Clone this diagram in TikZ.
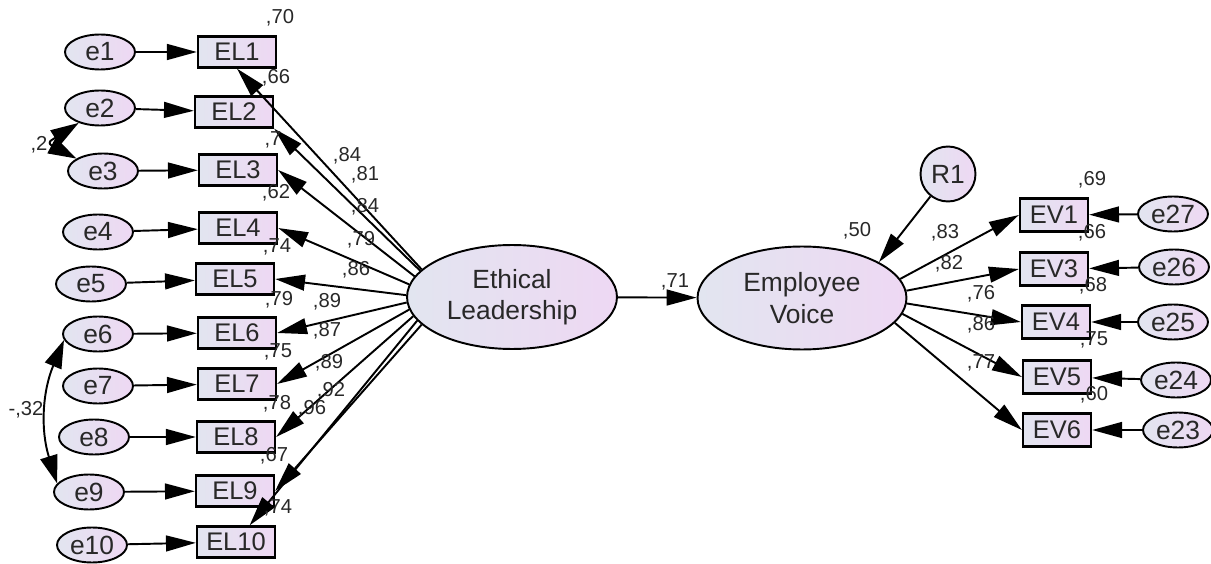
\documentclass[tikz,border=0pt]{standalone}
\usepackage{fontspec}
\setmainfont{Liberation Sans}
\usetikzlibrary{shapes.geometric,arrows.meta}
\definecolor{shadeleft}{RGB}{226,229,240}
\definecolor{shaderight}{RGB}{238,216,243}
\definecolor{inkgray}{RGB}{40,40,40}

\begin{document}
\begin{tikzpicture}[x=0.02cm,y=-0.02cm,
        obs/.style={draw,line width=1.3pt,rectangle,minimum width=1.56cm,minimum height=0.62cm,inner sep=0pt,
            left color=shadeleft,right color=shaderight,text=inkgray,font=\fontsize{14.5}{16}\selectfont},
        err/.style={draw,line width=1.1pt,ellipse,minimum width=1.4cm,minimum height=0.7cm,inner sep=0pt,
            left color=shadeleft,right color=shaderight,text=inkgray,font=\fontsize{15}{16}\selectfont},
        lat/.style={draw,line width=1.1pt,ellipse,minimum width=4.2cm,minimum height=2.08cm,inner sep=0pt,align=center,
            left color=shadeleft,right color=shaderight,text=inkgray,font=\fontsize{15}{18}\selectfont},
        est/.style={inner sep=0pt,text=inkgray,font=\fontsize{11.5}{12}\selectfont},
        loading/.style={line width=1.1pt,-{Triangle[length=17pt,width=9pt]}},
        cov/.style={line width=1.1pt,{Triangle[length=16pt,width=10pt]}-{Triangle[length=16pt,width=10pt]}}]
        \useasboundingbox (0,0) rectangle (1211,564);

        % Latent variables
        \node[lat] (EthLead) at (512,297) {Ethical\\Leadership};
        \node[lat,minimum width=4.18cm,minimum height=2.06cm] (EmpVoice) at (802,298) {Employee\\Voice};
        \node[err,circle,minimum size=1.1cm] (R1) at (948,174) {R1};

        % Ethical leadership items
        \node[obs] (EL1) at (237,52) {EL1};
        \node[obs] (EL2) at (234,112) {EL2};
        \node[obs] (EL3) at (238,170) {EL3};
        \node[obs] (EL4) at (238,228) {EL4};
        \node[obs] (EL5) at (235,279) {EL5};
        \node[obs] (EL6) at (237,333) {EL6};
        \node[obs] (EL7) at (237,384) {EL7};
        \node[obs] (EL8) at (236,437) {EL8};
        \node[obs] (EL9) at (235,491) {EL9};
        \node[obs] (EL10) at (236,542) {EL10};

        % Their error terms
        \node[err] (e1) at (100,52) {e1};
        \node[err] (e2) at (100,108) {e2};
        \node[err] (e3) at (103,171) {e3};
        \node[err] (e4) at (98,232) {e4};
        \node[err] (e5) at (91,284) {e5};
        \node[err] (e6) at (98,334) {e6};
        \node[err] (e7) at (98,386) {e7};
        \node[err] (e8) at (94,437) {e8};
        \node[err] (e9) at (89,492) {e9};
        \node[err] (e10) at (92,545) {e10};

        % Employee voice items and errors
        \node[obs,minimum width=1.36cm,minimum height=0.66cm] (EV1) at (1054,215) {EV1};
        \node[obs,minimum width=1.36cm,minimum height=0.66cm] (EV3) at (1054,269) {EV3};
        \node[obs,minimum width=1.36cm,minimum height=0.66cm] (EV4) at (1056,322) {EV4};
        \node[obs,minimum width=1.36cm,minimum height=0.66cm] (EV5) at (1057,377) {EV5};
        \node[obs,minimum width=1.36cm,minimum height=0.66cm] (EV6) at (1057,430) {EV6};
        \node[err] (e27) at (1173,214) {e27};
        \node[err] (e26) at (1174,267) {e26};
        \node[err] (e25) at (1173,322) {e25};
        \node[err] (e24) at (1176,380) {e24};
        \node[err] (e23) at (1178,430) {e23};

        % Error arrows
        \draw[loading] (e1) -- (EL1);
        \draw[loading] (e2) -- (EL2);
        \draw[loading] (e3) -- (EL3);
        \draw[loading] (e4) -- (EL4);
        \draw[loading] (e5) -- (EL5);
        \draw[loading] (e6) -- (EL6);
        \draw[loading] (e7) -- (EL7);
        \draw[loading] (e8) -- (EL8);
        \draw[loading] (e9) -- (EL9);
        \draw[loading] (e10) -- (EL10);
        \draw[loading] (e27) -- (EV1);
        \draw[loading] (e26) -- (EV3);
        \draw[loading] (e25) -- (EV4);
        \draw[loading] (e24) -- (EV5);
        \draw[loading] (e23) -- (EV6);

        % Covariances between errors
        \coordinate (bend23) at (47,143);
        \draw[cov,rounded corners=3pt] (e2.215) -- (bend23) -- (e3.155);
        \draw[cov] (e6.190) to[bend right=20] (e9.165);

        % Loadings of ethical leadership
        \draw[loading] (EthLead.163) -- (EL1.south);
        \draw[loading] (EthLead.164) -- (EL2.south east);
        \draw[loading] (EthLead.168) -- (EL3.east);
        \draw[loading] (EthLead.173) -- (EL4.east);
        \draw[loading] (EthLead.179) -- (EL5.east);
        \draw[loading] (EthLead.183) -- (EL6.east);
        \draw[loading] (EthLead.187) -- (EL7.east);
        \draw[loading] (EthLead.191) -- (EL8.east);
        \draw[loading] (EthLead.197) -- (EL9.east);
        \draw[loading] (EthLead.194) -- (EL10);

        % Structural path and loadings of employee voice
        \draw[loading] (EthLead) -- (EmpVoice);
        \draw[loading] (R1) -- (EmpVoice.25);
        \draw[loading] (EmpVoice.11) -- (EV1.west);
        \draw[loading] (EmpVoice.4) -- (EV3.west);
        \draw[loading] (EmpVoice.357) -- (EV4.west);
        \draw[loading] (EmpVoice.351) -- (EV5.west);
        \draw[loading] (EmpVoice.345) -- (EV6.west);

        % Estimates
        \node[est] (r2EL1) at (280,18) {,70};
        \node[est] (r2EL2) at (276,78) {,66};
        \node[est] (r2EL3) at (273,140) {,7};
        \node[est] (r2EL4) at (276,193) {,62};
        \node[est] (r2EL5) at (277,247) {,74};
        \node[est] (r2EL6) at (279,300) {,79};
        \node[est] (r2EL7) at (278,352) {,75};
        \node[est] (r2EL8) at (277,404) {,78};
        \node[est] (r2EL9) at (274,456) {,67};
        \node[est] (r2EL10) at (278,508) {,74};
        \node[est] (ldEL1) at (347,156) {,84};
        \node[est] (ldEL2) at (365,175) {,81};
        \node[est] (ldEL3) at (365,207) {,84};
        \node[est] (ldEL4) at (361,240) {,79};
        \node[est] (ldEL5) at (356,270) {,86};
        \node[est] (ldEL6) at (327,302) {,89};
        \node[est] (ldEL7) at (327,331) {,87};
        \node[est] (ldEL8) at (329,363) {,89};
        \node[est] (ldEL9) at (331,391) {,92};
        \node[est] (ldEL10) at (312,409) {,96};
        \node[est] (cov23) at (39,145) {,2};
        \node[est] (cov69) at (26,410) {-,32};
        \node[est] (beta) at (675,282) {,71};
        \node[est] (r2EmpVoice) at (857,231) {,50};
        \node[est] (ldEV1) at (945,233) {,83};
        \node[est] (ldEV3) at (949,264) {,82};
        \node[est] (ldEV4) at (981,294) {,76};
        \node[est] (ldEV5) at (981,325) {,86};
        \node[est] (ldEV6) at (981,363) {,77};
        \node[est] (r2EV1) at (1092,180) {,69};
        \node[est] (r2EV3) at (1092,233) {,66};
        \node[est] (r2EV4) at (1093,286) {,68};
        \node[est] (r2EV5) at (1094,340) {,75};
        \node[est] (r2EV6) at (1094,395) {,60};
    \end{tikzpicture}
\end{document}
